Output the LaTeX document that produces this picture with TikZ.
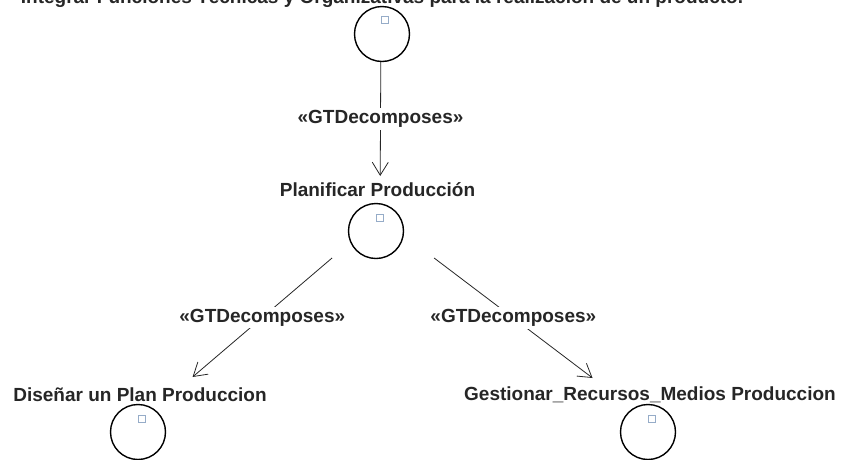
\documentclass[tikz,border=0pt]{standalone}
\usepackage{fontspec}
\setmainfont{Liberation Sans}
\usetikzlibrary{arrows.meta,calc}
\definecolor{ink}{RGB}{38,38,38}
\definecolor{tag}{RGB}{150,172,200}
\begin{document}
\begin{tikzpicture}[x=1pt,y=-1pt,
  txt/.style={font=\fontsize{19}{22}\selectfont\bfseries, text=ink, inner sep=0pt, anchor=base},
  goalbox/.style={inner sep=0pt, outer sep=0pt, rectangle},
  goal/.style={circle, draw=black, line width=1.4pt, minimum size=55pt, inner sep=0pt},
  tagsq/.style={rectangle, draw=tag, line width=1.2pt, fill=white, minimum size=7pt, inner sep=0pt},
  flow/.style={draw=black!85, line width=0.8pt, -{Straight Barb[length=13pt,width=16pt]}},
  stereo/.style={font=\fontsize{19}{22}\selectfont\bfseries, text=ink, fill=white, inner sep=2pt}
]
\path[use as bounding box, clip] (0,0) rectangle (844,459);

% goal: top of the tree
\node[goalbox, minimum width=740pt, minimum height=74pt] (topbox) at (381,25) {};
\node[txt] (toptxt) at (382,3) {Integrar Funciones Técnicas y Organizativas para la realización de un producto.};
\node[goal] (topc) at (382,34) {};
\node[tagsq] (topsq) at ($(topc)+(3,-14)$) {};

% goal: Planificar Producción
\node[goalbox, minimum width=216pt, minimum height=82pt] (planbox) at (380,217) {};
\node[txt] (plantxt) at (377.5,196) {Planificar Producción};
\node[goal] (planc) at (376,231) {};
\node[tagsq] (plansq) at ($(planc)+(4,-13)$) {};

% goal: Diseñar un Plan Produccion
\node[goalbox, minimum width=260pt, minimum height=90pt] (disbox) at (140,422) {};
\node[txt] (distxt) at (140,401) {Diseñar un Plan Produccion};
\node[goal] (disc) at (138,432) {};
\node[tagsq] (dissq) at ($(disc)+(4,-13)$) {};

% goal: Gestionar_Recursos_Medios Produccion
\node[goalbox, minimum width=380pt, minimum height=88pt] (gesbox) at (650.5,422) {};
\node[txt] (gestxt) at (650,400) {Gestionar\_Recursos\_Medios Produccion};
\node[goal] (gesc) at (648,432) {};
\node[tagsq] (gessq) at ($(gesc)+(4,-13)$) {};

% decomposition links
\draw[flow] (topbox) -- node[stereo] {«GTDecomposes»} (planbox);
\draw[flow] (planbox) -- node[stereo] {«GTDecomposes»} (disbox);
\draw[flow] (planbox) -- node[stereo] {«GTDecomposes»} (gesbox);
\end{tikzpicture}
\end{document}
